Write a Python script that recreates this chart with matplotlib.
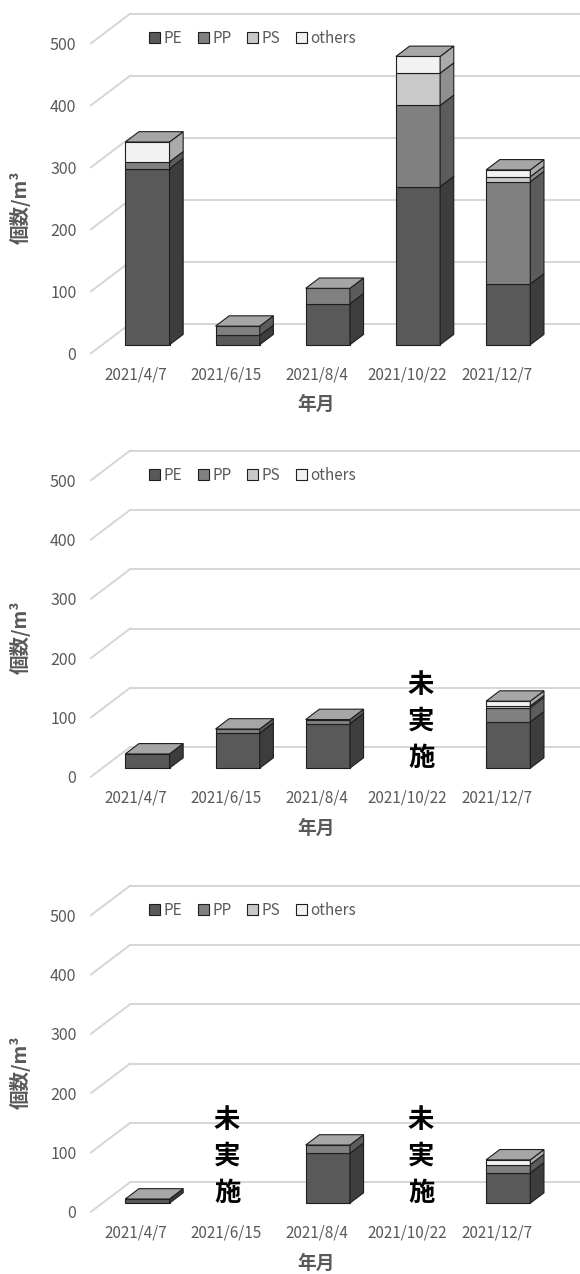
import numpy as np
import matplotlib.pyplot as plt
from matplotlib.patches import Polygon, Patch

plt.rcParams['font.family'] = ['Noto Sans CJK JP', 'DejaVu Sans']

# 調査日と分類
categories = ['2021/4/7', '2021/6/15', '2021/8/4', '2021/10/22', '2021/12/7']
series = ['PE', 'PP', 'PS', 'others']

# 上段
pe_1 = [284, 15, 66, 255, 98]
pp_1 = [11, 15, 25, 131, 165]
ps_1 = [0, 0, 0, 52, 8]
others_1 = [32, 0, 0, 27, 11]

# 中段 (2021/10/22 は未実施)
pe_2 = [24, 59, 75, np.nan, 78]
pp_2 = [0, 7, 7, np.nan, 24]
ps_2 = [0, 0, 0, np.nan, 3]
others_2 = [0, 0, 0, np.nan, 8]

# 下段 (2021/6/15, 2021/10/22 は未実施)
pe_3 = [7, np.nan, 84, np.nan, 51]
pp_3 = [0, np.nan, 14, np.nan, 14]
ps_3 = [0, np.nan, 0, np.nan, 0]
others_3 = [0, np.nan, 0, np.nan, 8]

yticks = [0, 100, 200, 300, 400, 500]

face_colors = ['#595959', '#808080', '#c9c9c9', '#f2f2f2']
side_colors = ['#3d3d3d', '#5c5c5c', '#8f8f8f', '#ababab']
top_color = '#a6a6a6'
edge = '#1e1e1e'
text_gray = '#595959'
grid_gray = '#d6d6d6'

W_PX, H_PX = 580, 1274
LEFT_PX, CAT_PX = 91, 90.2      # 手前の床の左端と1項目の幅
DX = 39 / CAT_PX                # 奥行き方向のずれ(x)
DEPTH_PX = 29.5                 # 奥行き方向のずれ(y, px)
F0, F1 = 0.29, 0.64             # 棒の奥行き位置
BAR_W = 0.49

# (帯の上端px, 下端px, 0の位置px, px/個)
panels = [
    (0, 425, 353.3, 0.620),
    (425, 850, 776.7, 0.593),
    (850, 1274, 1211.7, 0.593),
]
data = [
    (pe_1, pp_1, ps_1, others_1, []),
    (pe_2, pp_2, ps_2, others_2, [3.16]),
    (pe_3, pp_3, ps_3, others_3, [1.01, 3.16]),
]


def draw_bar(ax, i, vals, DY):
    xl = i - BAR_W / 2 + F0 * DX
    xr = xl + BAR_W
    y0 = F0 * DY
    ddx = (F1 - F0) * DX
    ddy = (F1 - F0) * DY
    bottom = 0
    for v, fc, sc in zip(vals, face_colors, side_colors):
        if not v:
            continue
        b, t = bottom + y0, bottom + v + y0
        ax.add_patch(Polygon([(xl, b), (xr, b), (xr, t), (xl, t)],
                             closed=True, fc=fc, ec=edge, lw=0.8, zorder=3))
        ax.add_patch(Polygon([(xr, b), (xr + ddx, b + ddy), (xr + ddx, t + ddy), (xr, t)],
                             closed=True, fc=sc, ec=edge, lw=0.8, zorder=3))
        bottom += v
    T = bottom + y0
    ax.add_patch(Polygon([(xl, T), (xr, T), (xr + ddx, T + ddy), (xl + ddx, T + ddy)],
                         closed=True, fc=top_color, ec=edge, lw=0.8, zorder=4))


fig = plt.figure(figsize=(W_PX / 100, H_PX / 100), dpi=100)
xlim = (-0.5 - LEFT_PX / CAT_PX, -0.5 + (W_PX - LEFT_PX) / CAT_PX)

for (top, bot, zero, k), (pe, pp, ps, oth, skipped) in zip(panels, data):
    ax = fig.add_axes([0, 1 - bot / H_PX, 1, (bot - top) / H_PX])
    ax.set_xlim(xlim)
    ax.set_ylim((zero - bot) / k, (zero - top) / k)
    ax.set_facecolor('none')
    DY = DEPTH_PX / k

    # 側壁と背面の目盛線
    for v in yticks:
        ax.plot([-0.5, -0.5 + DX], [v, v + DY], color=grid_gray, lw=1.4, zorder=1)
        ax.plot([-0.5 + DX, xlim[1]], [v + DY, v + DY], color=grid_gray, lw=1.4, zorder=1)

    for i in range(len(categories)):
        vals = [pe[i], pp[i], ps[i], oth[i]]
        if np.isnan(vals[0]):
            continue
        draw_bar(ax, i, vals, DY)

    for x in skipped:
        ax.text(x, 93, '未\n実\n施', ha='center', va='center', fontsize=19,
                fontweight='bold', color='black', linespacing=1.45, zorder=5)

    for s in ax.spines.values():
        s.set_visible(False)
    ax.spines['left'].set_position(('data', -0.5))
    ax.spines['bottom'].set_position(('data', 0))
    ax.set_yticks(yticks)
    ax.set_xticks(range(len(categories)))
    ax.set_xticklabels(categories)
    ax.tick_params(axis='y', length=0, pad=10.5, labelsize=11.5, labelcolor=text_gray)
    ax.tick_params(axis='x', length=0, pad=9.5, labelsize=11, labelcolor=text_gray)

    ax.annotate('年月', (2, 0), xytext=(0, -37), textcoords='offset points',
                ha='center', va='center', fontsize=13.5, fontweight='bold', color=text_gray)
    ax.annotate('個数/m³', (-0.5, 235), xytext=(-51, 0), textcoords='offset points',
                ha='center', va='center', rotation=90, fontsize=14, fontweight='bold',
                color=text_gray)

    handles = [Patch(fc=c, ec=edge, lw=0.8) for c in face_colors]
    ax.legend(handles, series, loc='center left', bbox_to_anchor=(0.143, 508),
              bbox_transform=ax.transData, ncol=4, frameon=False, fontsize=11,
              handlelength=0.72, handleheight=0.72, handletextpad=0.25,
              columnspacing=1.0, borderpad=0, borderaxespad=0, labelcolor=text_gray)

fig.savefig('out.png', dpi=100, facecolor='white')
